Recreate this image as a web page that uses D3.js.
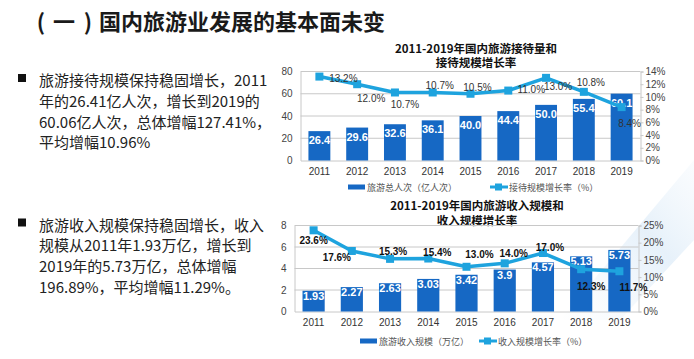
<!DOCTYPE html>
<html><head><meta charset="utf-8">
<script src="https://cdn.jsdelivr.net/npm/d3@7"></script>
<style>
html,body{margin:0;padding:0;background:#fff;}
svg{display:block;}
</style></head>
<body>
<svg id="c" width="694" height="359"></svg>
<script>
const years = ['2011','2012','2013','2014','2015','2016','2017','2018','2019'];
const visitors = [26.4, 29.6, 32.6, 36.1, 40.0, 44.4, 50.0, 55.4, 60.1];
const visitorGrowth = [13.2, 12.0, 10.7, 10.7, 10.5, 11.0, 13.0, 10.8, 8.4];
const revenue = [1.93, 2.27, 2.63, 3.03, 3.42, 3.9, 4.57, 5.13, 5.73];
const revenueGrowth = [23.6, 17.6, 15.3, 15.4, 13.0, 14.0, 17.0, 12.3, 11.7];
const leftTicksTop = [0, 20, 40, 60, 80];
const rightTicksTop = [0, 2, 4, 6, 8, 10, 12, 14];
const leftTicksBottom = [0, 2, 4, 6, 8];
const rightTicksBottom = [0, 5, 10, 15, 20, 25];

const headingParts = ['(', '一', ')'];
const headingMain = '国内旅游业发展的基本面未变';
const para1 = ['旅游接待规模保持稳固增长，2011', '年的26.41亿人次，增长到2019的', '60.06亿人次，总体增幅127.41%，', '平均增幅10.96%'];
const para2 = ['旅游收入规模保持稳固增长，收入', '规模从2011年1.93万亿，增长到', '2019年的5.73万亿，总体增幅', '196.89%，平均增幅11.29%。'];

// label placement (style config, offsets of growth labels from their points)
const topLabelOffsets = [[24,2],[14,14],[10,12],[7,-7],[7,-6],[23,-1],[12,9],[7,-9],[8,16]];
const botLabelOffsets = [[0,10],[-15,7],[3,-7],[9,-6],[13,-12],[9,-10],[7,-6],[10,17],[14,16]];

const svg = d3.select('#c');
const CJK = '"Noto Sans CJK SC","Microsoft YaHei",sans-serif';
const LAT = '"Liberation Sans",Arial,sans-serif';
const barColor = '#1668c4';
const lineColor = '#1ea3de';
const gridColor = '#c8c8c8';

// faint background streak
const defs = svg.append('defs');
const lg = defs.append('linearGradient').attr('id','streak').attr('x1','0').attr('y1','1').attr('x2','1').attr('y2','0');
lg.append('stop').attr('offset','0').attr('stop-color','#e6f1fa').attr('stop-opacity',0);
lg.append('stop').attr('offset','0.6').attr('stop-color','#dcebf8').attr('stop-opacity',0.7);
lg.append('stop').attr('offset','1').attr('stop-color','#eef5fb').attr('stop-opacity',0.3);
svg.append('path').attr('d','M560,320 L694,160 L694,240 L620,320 Z').attr('fill','url(#streak)');

// heading
const hd = svg.append('g').attr('font-family', CJK).attr('font-weight', 'bold').attr('font-size', 22).attr('fill', '#1a1a1a');
const partCenters = [41, 64, 88];
headingParts.forEach((p, i) => {
  hd.append('text').attr('x', partCenters[i]).attr('y', 30).attr('text-anchor', 'middle').text(p);
});
hd.append('text').attr('x', 99).attr('y', 30).text(headingMain);

function drawPara(lines, x, y0, lh) {
  svg.append('rect').attr('x', 18).attr('y', y0 - 5.5).attr('width', 8).attr('height', 8).attr('fill', '#111');
  lines.forEach((l, i) => {
    svg.append('text').attr('x', x).attr('y', y0 + i * lh).text(l)
      .attr('dominant-baseline', 'central')
      .attr('font-family', CJK).attr('font-size', 15).attr('fill', '#222');
  });
}
drawPara(para1, 39, 79.5, 20.8);
drawPara(para2, 39, 224, 20.7);

function drawChart(cfg) {
  const g = svg.append('g');
  const x = d3.scaleBand().domain(years).range([cfg.left, cfg.right]).paddingInner(0.42).paddingOuter(0.21);
  const yL = d3.scaleLinear().domain([0, cfg.leftTicks[cfg.leftTicks.length - 1]]).range([cfg.bottom, cfg.top]);
  const yR = d3.scaleLinear().domain([0, cfg.rightTicks[cfg.rightTicks.length - 1]]).range([cfg.bottom, cfg.top]);

  // title
  cfg.title.forEach((t, i) => {
    g.append('text').attr('x', cfg.titleX).attr('y', cfg.titleY + i * 14.5).text(t)
      .attr('text-anchor', 'middle').attr('dominant-baseline', 'central')
      .attr('font-family', CJK).attr('font-weight', 'bold').attr('font-size', 11.5).attr('fill', '#111');
  });

  // gridlines
  g.append('g').selectAll('line').data(cfg.leftTicks.slice(1)).join('line')
    .attr('x1', cfg.left).attr('x2', cfg.right)
    .attr('y1', d => yL(d)).attr('y2', d => yL(d))
    .attr('stroke', gridColor).attr('stroke-width', 1);

  // left axis
  const la = g.append('g').attr('transform', `translate(${cfg.left},0)`)
    .call(d3.axisLeft(yL).tickValues(cfg.leftTicks).tickSize(0).tickPadding(8).tickFormat(d3.format('d')));
  la.select('.domain').attr('stroke', gridColor);
  la.selectAll('text').attr('font-family', LAT).attr('font-size', 10).attr('fill', '#444');

  // right axis
  const ra = g.append('g').attr('transform', `translate(${cfg.right},0)`)
    .call(d3.axisRight(yR).tickValues(cfg.rightTicks).tickSize(3).tickPadding(2).tickFormat(d => d + '%'));
  ra.select('.domain').attr('stroke', gridColor);
  ra.selectAll('line').attr('stroke', gridColor);
  ra.selectAll('text').attr('font-family', LAT).attr('font-size', 10).attr('fill', '#444');

  // bottom axis
  const ba = g.append('g').attr('transform', `translate(0,${cfg.bottom})`)
    .call(d3.axisBottom(x).tickSize(0).tickPadding(7));
  ba.select('.domain').attr('stroke', gridColor);
  ba.selectAll('text').attr('font-family', LAT).attr('font-size', 10).attr('fill', '#333');

  // bars
  g.append('g').selectAll('rect').data(cfg.bars).join('rect')
    .attr('x', (d, i) => x(years[i])).attr('width', x.bandwidth())
    .attr('y', d => yL(d)).attr('height', d => cfg.bottom - yL(d))
    .attr('fill', barColor);

  // bar labels
  g.append('g').selectAll('text').data(cfg.bars).join('text')
    .attr('x', (d, i) => x(years[i]) + x.bandwidth() / 2)
    .attr('y', d => yL(d) + cfg.barLabelDy)
    .attr('text-anchor', 'middle').attr('dominant-baseline', 'central')
    .attr('font-family', LAT).attr('font-weight', 'bold').attr('font-size', 11).attr('fill', '#fff')
    .text(cfg.barFmt);

  // line
  const cx = (d, i) => x(years[i]) + x.bandwidth() / 2;
  const line = d3.line().x((d, i) => cx(d, i)).y(d => yR(d));
  g.append('path').datum(cfg.growth).attr('d', line)
    .attr('fill', 'none').attr('stroke', lineColor).attr('stroke-width', 3.5).attr('stroke-linejoin', 'round');
  g.append('g').selectAll('rect').data(cfg.growth).join('rect')
    .attr('x', (d, i) => cx(d, i) - 4).attr('y', d => yR(d) - 4)
    .attr('width', 8).attr('height', 8).attr('fill', lineColor);

  // growth labels
  g.append('g').selectAll('text').data(cfg.growth).join('text')
    .attr('x', (d, i) => cx(d, i) + cfg.offsets[i][0])
    .attr('y', (d, i) => yR(d) + cfg.offsets[i][1])
    .attr('text-anchor', 'middle').attr('dominant-baseline', 'central')
    .attr('font-family', LAT).attr('font-weight', cfg.growthBold ? 'bold' : 'normal')
    .attr('font-size', 10).attr('fill', cfg.growthBold ? '#111' : '#333')
    .text(d => d3.format('.1f')(d) + '%');

  // legend
  const lgd = g.append('g');
  lgd.append('rect').attr('x', cfg.leg1X).attr('y', cfg.legY - 2.5).attr('width', 17).attr('height', 5).attr('fill', barColor);
  lgd.append('text').attr('x', cfg.leg1X + 19).attr('y', cfg.legY).text(cfg.leg1)
    .attr('dominant-baseline', 'central').attr('font-family', CJK).attr('font-size', 9).attr('fill', '#555');
  lgd.append('line').attr('x1', cfg.leg2X).attr('x2', cfg.leg2X + 18).attr('y1', cfg.legY).attr('y2', cfg.legY)
    .attr('stroke', lineColor).attr('stroke-width', 3);
  lgd.append('rect').attr('x', cfg.leg2X + 5).attr('y', cfg.legY - 3.5).attr('width', 7).attr('height', 7).attr('fill', lineColor);
  lgd.append('text').attr('x', cfg.leg2X + 19).attr('y', cfg.legY).text(cfg.leg2)
    .attr('dominant-baseline', 'central').attr('font-family', CJK).attr('font-size', 9).attr('fill', '#555');
}

drawChart({
  left: 300.5, right: 640.5, top: 71.5, bottom: 160.5,
  leftTicks: leftTicksTop, rightTicks: rightTicksTop,
  bars: visitors, growth: visitorGrowth,
  barFmt: d => d3.format('.1f')(d), barLabelDy: 9,
  offsets: topLabelOffsets, growthBold: false,
  title: ['2011-2019年国内旅游接待量和', '接待规模增长率'], titleX: 476, titleY: 47.5,
  leg1: '旅游总人次（亿人次）', leg2: '接待规模增长率（%）',
  leg1X: 348, leg2X: 490, legY: 187
});

drawChart({
  left: 294.5, right: 638.5, top: 225.5, bottom: 311.5,
  leftTicks: leftTicksBottom, rightTicks: rightTicksBottom,
  bars: revenue, growth: revenueGrowth,
  barFmt: d => String(d), barLabelDy: 5,
  offsets: botLabelOffsets, growthBold: true,
  title: ['2011-2019年国内旅游收入规模和', '收入规模增长率'], titleX: 477, titleY: 205,
  leg1: '旅游收入规模（万亿）', leg2: '收入规模增长率（%）',
  leg1X: 360, leg2X: 479, legY: 341
});
</script>
</body></html>
